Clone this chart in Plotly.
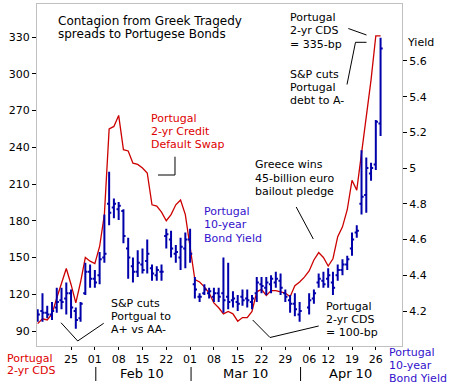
import pandas as pd
import plotly.graph_objects as go

# ---------------- data ----------------
dates = [d.strftime('%Y-%m-%d') for d in pd.bdate_range('2010-01-14', '2010-04-27')
         if d.strftime('%Y-%m-%d') != '2010-04-05']

cds_2yr = [96, 100, 99, 104, 117, 130, 141, 128, 113, 130,
           150, 147, 145, 159, 185, 255, 257, 266, 238, 237,
           227, 226, 223, 219, 193, 192, 187, 180, 185, 193,
           197, 185, 160, 132, 130, 126, 121, 113, 109, 104,
           106, 104, 98, 101, 101, 106, 122, 124, 119, 123,
           123, 122, 121, 118, 127, 130, 134, 139, 148, 154,
           150, 143, 149, 167, 175, 189, 213, 205, 236, 264,
           295, 331, 331]

yield_high = [4.21, 4.30, 4.23, 4.25, 4.33, 4.33, 4.36, 4.32, 4.22, 4.25,
              4.47, 4.46, 4.43, 4.53, 4.74, 4.98, 4.83, 4.81, 4.77, 4.61,
              4.50, 4.54, 4.55, 4.60, 4.46, 4.45, 4.46, 4.66, 4.65, 4.57,
              4.61, 4.64, 4.66, 4.39, 4.30, 4.35, 4.33, 4.33, 4.33, 4.50,
              4.47, 4.31, 4.29, 4.32, 4.32, 4.29, 4.39, 4.39, 4.39, 4.40,
              4.42, 4.41, 4.32, 4.29, 4.30, 4.25, None, 4.30, 4.32, 4.41,
              4.42, 4.44, 4.42, 4.46, 4.49, 4.51, 4.64, 4.68, 5.10, 5.06,
              5.03, 5.27, 5.73]
yield_low = [4.14, 4.14, 4.16, 4.15, 4.19, 4.21, 4.18, 4.16, 4.10, 4.14,
             4.29, 4.33, 4.33, 4.35, 4.47, 4.68, 4.72, 4.71, 4.58, 4.38,
             4.36, 4.39, 4.41, 4.41, 4.37, 4.37, 4.37, 4.55, 4.50, 4.47,
             4.43, 4.44, 4.47, 4.27, 4.25, 4.29, 4.27, 4.25, 4.25, 4.19,
             4.21, 4.22, 4.20, 4.23, 4.22, 4.21, 4.25, 4.30, 4.29, 4.30,
             4.33, 4.29, 4.25, 4.19, 4.17, 4.14, None, 4.18, 4.24, 4.33,
             4.33, 4.33, 4.29, 4.37, 4.40, 4.43, 4.51, 4.61, 4.74, 4.75,
             4.93, 4.99, 5.18]
yield_open = [4.17, 4.20, 4.19, 4.18, 4.22, 4.26, 4.27, 4.30, 4.20, 4.16,
              4.30, 4.42, 4.38, 4.40, 4.50, 4.80, 4.78, 4.77, 4.76, 4.55,
              4.45, 4.42, 4.46, 4.48, 4.44, 4.40, 4.42, 4.62, 4.60, 4.52,
              4.50, 4.55, 4.60, 4.35, 4.28, 4.30, 4.30, 4.28, 4.30, 4.30,
              4.28, 4.26, 4.25, 4.28, 4.27, 4.25, 4.30, 4.35, 4.33, 4.35,
              4.36, 4.37, 4.30, 4.26, 4.24, 4.18, None, 4.22, 4.27, 4.36,
              4.37, 4.38, 4.36, 4.40, 4.43, 4.46, 4.55, 4.64, 4.80, 4.85,
              4.97, 5.02, 5.25]
yield_close = [4.18, 4.19, 4.18, 4.20, 4.25, 4.25, 4.30, 4.22, 4.15, 4.24,
               4.42, 4.38, 4.36, 4.49, 4.52, 4.75, 4.80, 4.79, 4.62, 4.50,
               4.42, 4.47, 4.43, 4.52, 4.41, 4.43, 4.42, 4.63, 4.55, 4.53,
               4.56, 4.60, 4.52, 4.32, 4.28, 4.32, 4.31, 4.30, 4.28, 4.26,
               4.25, 4.27, 4.24, 4.26, 4.26, 4.27, 4.36, 4.34, 4.36, 4.38,
               4.38, 4.33, 4.28, 4.24, 4.21, 4.20, None, 4.26, 4.30, 4.38,
               4.35, 4.40, 4.33, 4.43, 4.46, 4.49, 4.60, 4.65, 4.84, 5.00,
               5.00, 5.26, 5.67]

tick_dates = ['2010-01-25', '2010-02-01', '2010-02-08', '2010-02-15', '2010-02-22',
              '2010-03-01', '2010-03-08', '2010-03-15', '2010-03-22', '2010-03-29',
              '2010-04-06', '2010-04-12', '2010-04-19', '2010-04-26']
tick_labels = ['25', '01', '08', '15', '22', '01', '08', '15', '22', '29',
               '06', '12', '19', '26']
month_starts = ['2010-02-01', '2010-03-01', '2010-04-01']
month_labels = ['Feb 10', 'Mar 10', 'Apr 10']

cds_ticks = [90, 120, 150, 180, 210, 240, 270, 300, 330]
yield_ticks = [4.2, 4.4, 4.6, 4.8, 5.0, 5.2, 5.4, 5.6]
yield_tick_text = ['4.2', '4.4', '4.6', '4.8', '5', '5.2', '5.4', '5.6']

# ---------------- styling ----------------
RED = '#cc0000'
BLUE = '#0000aa'
LBLUE = '#3311cc'
FONT = 'DejaVu Sans'
W, H = 452, 385
L, R, T, B = 37, 402, 4, 346   # plot area in pixels


def px(x):
    return (x - L) / (R - L)


def py(y):
    return (B - y) / (B - T)


fig = go.Figure()
fig.add_trace(go.Scatter(x=dates, y=cds_2yr, mode='lines',
                         line=dict(color=RED, width=1.3), yaxis='y',
                         showlegend=False, hoverinfo='skip'))
fig.add_trace(go.Ohlc(x=dates, open=yield_open, high=yield_high, low=yield_low,
                      close=yield_close, yaxis='y2', tickwidth=0.45,
                      increasing=dict(line=dict(color=BLUE, width=2)),
                      decreasing=dict(line=dict(color=BLUE, width=2)),
                      showlegend=False, hoverinfo='skip'))

annotations = []


def add_lines(lines, x, y0, dy, color, size=11, anchor='left'):
    for k, t in enumerate(lines):
        annotations.append(dict(text=t, x=px(x), y=py(y0 + k * dy), xref='paper', yref='paper',
                                xanchor=anchor, yanchor='middle', showarrow=False,
                                font=dict(family=FONT, size=size, color=color)))


add_lines(['Contagion from Greek Tragedy', 'spreads to Portugese Bonds'], 55.5, 20.7, 12.8, '#000000', 12)
add_lines(['Portugal', '2-yr Credit', 'Default Swap'], 148.5, 118, 13.3, '#dd0000')
add_lines(['Portugal', '10-year', 'Bond Yield'], 201.5, 211.7, 13.3, LBLUE)
add_lines(['Greece wins', '45-billion euro', 'bailout pledge'], 252.5, 165, 13.4, '#000000')
add_lines(['Portugal', '2-yr CDS', '= 335-bp'], 287.5, 17.3, 13.4, '#000000')
add_lines(['S&P cuts', 'Portugal', 'debt to A-'], 287.5, 74, 13.3, '#000000')
add_lines(['S&P cuts', 'Portgual to', 'A+ vs AA-'], 109, 303.3, 13.3, '#000000')
add_lines(['Portugal', '2-yr CDS', '= 100-bp'], 323.5, 306.7, 13.0, '#000000')
add_lines(['Portugal', '2-yr CDS'], 5.5, 358.3, 12.5, '#dd0000')
add_lines(['Portugal', '10-year', 'Bond Yield'], 387, 352.3, 13.0, LBLUE)
add_lines(['Yield'], 404.5, 42, 0, '#000000')
for lab, cx in zip(month_labels, [142.3, 245, 350]):
    add_lines([lab], cx, 373, 0, '#000000', 13, 'center')

shapes = []


def add_path(points):
    d = 'M ' + ' L '.join(f'{px(a):.5f},{py(b):.5f}' for a, b in points)
    shapes.append(dict(type='path', path=d, xref='paper', yref='paper',
                       line=dict(color='#000000', width=1)))


add_path([(158, 175), (175, 175), (175, 156.7)])
add_path([(296.2, 207), (313.3, 239)])
add_path([(348.3, 28.5), (366.5, 35)])
add_path([(347, 84.5), (355.5, 42.3), (366.5, 42.3)])
add_path([(61, 322.7), (77.7, 341), (103.7, 323.3)])
add_path([(252.7, 320), (270, 337.5), (318.7, 326)])

for m in month_starts:
    shapes.append(dict(type='line', xref='x', yref='paper',
                       x0=dates.index(m) + 0.2, x1=dates.index(m) + 0.2,
                       y0=py(367), y1=py(381), line=dict(color='#000000', width=1)))

fig.update_layout(
    width=W, height=H, autosize=False,
    margin=dict(l=L, r=W - R, t=T, b=H - B, pad=0),
    paper_bgcolor='white', plot_bgcolor='white',
    font=dict(family=FONT, size=11, color='#000000'),
    showlegend=False,
    xaxis=dict(type='category', categoryorder='array', categoryarray=dates,
               range=[-0.15, 76.5], tickmode='array', tickvals=tick_dates, ticktext=tick_labels,
               ticks='outside', ticklen=3, tickcolor='#000000', showgrid=False,
               showline=True, linecolor='#c0c0c0', linewidth=1, mirror=True,
               rangeslider=dict(visible=False), tickfont=dict(size=11), zeroline=False),
    yaxis=dict(range=[77.76, 356.95], tickmode='array', tickvals=cds_ticks,
               ticks='outside', ticklen=4, tickcolor='#000000', showgrid=False,
               showline=True, linecolor='#c0c0c0', linewidth=1, zeroline=False,
               tickfont=dict(size=11)),
    yaxis2=dict(range=[4.004, 5.919], overlaying='y', side='right', tickmode='array',
                tickvals=yield_ticks, ticktext=yield_tick_text,
                ticks='outside', ticklen=4, tickcolor='#000000', showgrid=False,
                showline=True, linecolor='#c0c0c0', linewidth=1, zeroline=False,
                tickfont=dict(size=11)),
    annotations=annotations,
    shapes=shapes,
)

fig.write_html('out.html', config={'displayModeBar': False},
               post_script="document.body.style.margin='0';document.body.style.overflow='hidden';")
